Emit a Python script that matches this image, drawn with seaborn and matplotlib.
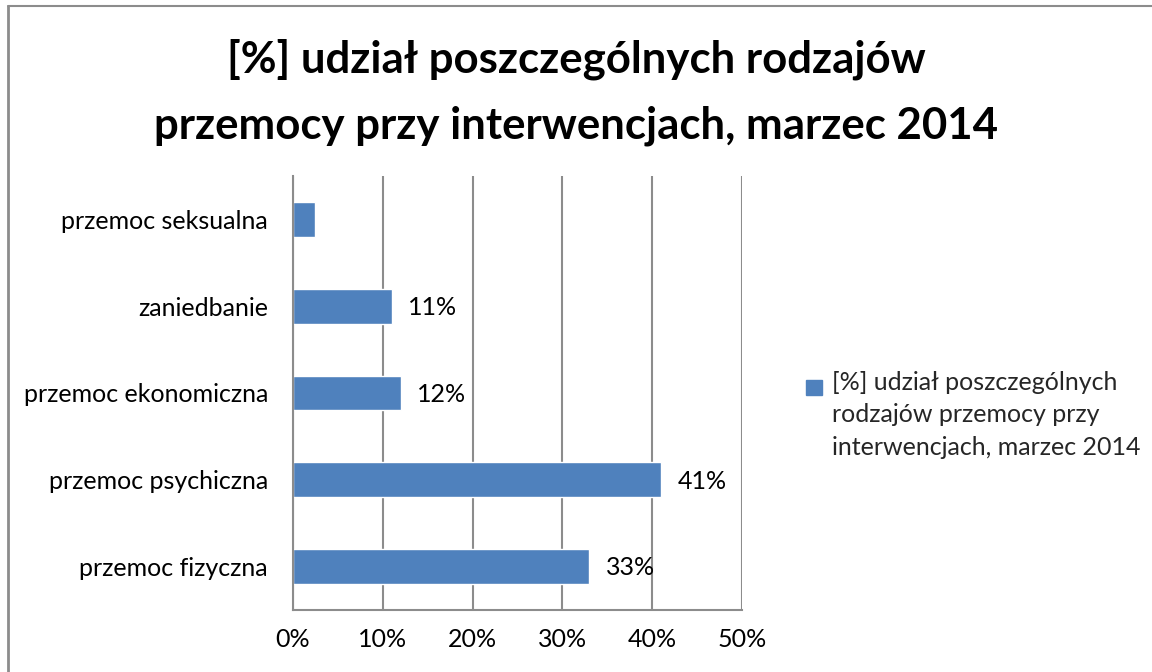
import matplotlib
matplotlib.use("Agg")
import matplotlib.pyplot as plt
import matplotlib.ticker as mticker
from matplotlib.lines import Line2D
from matplotlib.patches import Patch, Rectangle
from matplotlib.legend_handler import HandlerPatch
import pandas as pd
import seaborn as sns

categories = ["przemoc seksualna", "zaniedbanie", "przemoc ekonomiczna",
              "przemoc psychiczna", "przemoc fizyczna"]
values = [0.025, 0.11, 0.12, 0.41, 0.33]
labels = ["", "11%", "12%", "41%", "33%"]
title = "[%] udział poszczególnych rodzajów\nprzemocy przy interwencjach, marzec 2014"
legend_label = "[%] udział poszczególnych\nrodzajów przemocy przy\ninterwencjach, marzec 2014"

df = pd.DataFrame({"kategoria": categories, "udzial": values})

sns.set_style("white")
plt.rcParams["font.family"] = ["Lato", "DejaVu Sans"]

bar_color = "#4F81BD"
grid_color = "#8C8C8C"
fs = 18

fig = plt.figure(figsize=(11.52, 6.72), dpi=100)
ax = fig.add_axes([0.2543, 0.0923, 0.3898, 0.6458])

sns.barplot(data=df, x="udzial", y="kategoria", orient="h", color=bar_color,
            saturation=1, width=0.4, ax=ax)

for i, (v, lab) in enumerate(zip(values, labels)):
    if lab:
        ax.annotate(lab, xy=(v, i), xytext=(12, -1), textcoords="offset points",
                    va="center", ha="left", fontsize=fs, color="black")

ax.set_xlim(0, 0.5)
ax.set_ylim(4.5, -0.5)
ax.xaxis.set_major_locator(mticker.MultipleLocator(0.1))
ax.xaxis.set_major_formatter(mticker.PercentFormatter(1.0, decimals=0))
ax.grid(axis="x", color=grid_color, linewidth=1.5)
ax.set_axisbelow(True)

ax.set_xlabel("")
ax.set_ylabel("")
ax.tick_params(axis="x", labelsize=fs, length=6, width=1.5, color=grid_color,
               pad=7, direction="out", labelcolor="black")
ax.tick_params(axis="y", which="major", length=0, labelsize=fs, pad=18,
               labelcolor="black")
ax.set_yticks([-0.5, 0.5, 1.5, 2.5, 3.5, 4.5], minor=True)
ax.tick_params(axis="y", which="minor", length=6, width=1.5, color=grid_color,
               direction="out")

for side in ["top", "right"]:
    ax.spines[side].set_visible(False)
for side in ["left", "bottom"]:
    ax.spines[side].set_color(grid_color)
    ax.spines[side].set_linewidth(1.5)

fig.suptitle(title, fontsize=31.5, fontweight="bold", y=0.942, va="top",
             linespacing=1.75, color="black")


def top_square(legend, orig_handle, xdescent, ydescent, width, height, fontsize):
    s = 0.62 * fontsize
    return Rectangle((-xdescent, -ydescent + height - s - 0.1 * fontsize), s, s)


handle = Patch(facecolor=bar_color, edgecolor=bar_color)
fig.legend([handle], [legend_label],
           handler_map={Patch: HandlerPatch(patch_func=top_square)},
           loc="center left", bbox_to_anchor=(0.689, 0.383), frameon=False,
           fontsize=fs, handlelength=0.62, handleheight=4.6, handletextpad=0.4,
           borderpad=0, labelspacing=0)
for t in fig.legends[0].get_texts():
    t.set_linespacing(1.5)

# chart frame (left and top edge visible in reference)
fig.add_artist(Line2D([0.0069, 0.0069], [0, 0.991], transform=fig.transFigure,
                      color=grid_color, linewidth=2))
fig.add_artist(Line2D([0.0069, 1.0], [0.991, 0.991], transform=fig.transFigure,
                      color=grid_color, linewidth=1.5))

fig.savefig("out.png", dpi=100, facecolor="white")
